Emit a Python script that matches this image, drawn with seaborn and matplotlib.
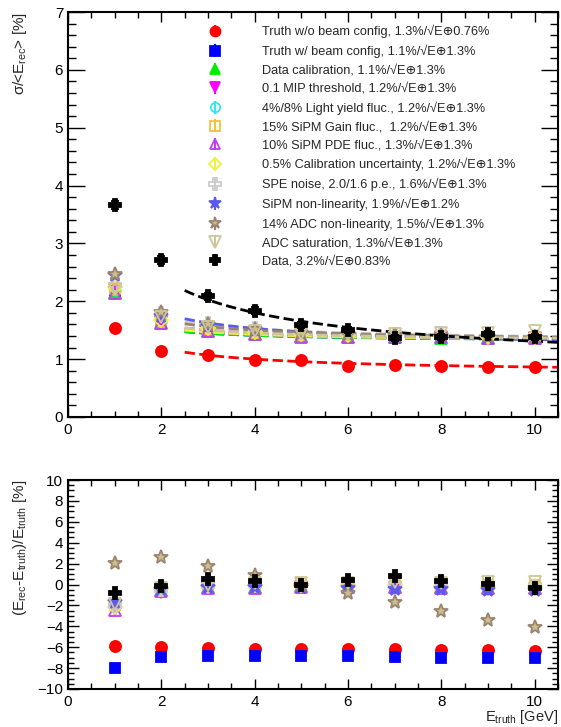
import numpy as np
import pandas as pd
import matplotlib
matplotlib.use("Agg")
import matplotlib.pyplot as plt
import seaborn as sns
from matplotlib.ticker import MultipleLocator

sns.set_theme(style="ticks")
plt.rcParams['font.family'] = ['Liberation Sans', 'DejaVu Sans']
plt.rcParams['mathtext.fontset'] = 'custom'
plt.rcParams['mathtext.rm'] = 'Liberation Sans'
plt.rcParams['mathtext.it'] = 'Liberation Sans:italic'

# Beam energies [GeV]
energy = [1, 2, 3, 4, 5, 6, 7, 8, 9, 10]

# Energy resolution sigma/<E_rec> [%]
res_truth_nobeam = [1.53, 1.14, 1.07, 0.99, 0.98, 0.88, 0.90, 0.89, 0.87, 0.87]
res_truth_beam   = [2.18, 1.63, 1.50, 1.45, 1.41, 1.40, 1.39, 1.38, 1.37, 1.36]
res_data_calib   = [2.15, 1.62, 1.49, 1.44, 1.40, 1.39, 1.38, 1.37, 1.37, 1.36]
res_mip          = [2.20, 1.64, 1.50, 1.45, 1.41, 1.40, 1.39, 1.38, 1.37, 1.37]
res_ly           = [2.20, 1.65, 1.52, 1.46, 1.42, 1.41, 1.40, 1.39, 1.38, 1.38]
res_gain         = [2.22, 1.66, 1.52, 1.46, 1.42, 1.41, 1.40, 1.40, 1.39, 1.38]
res_pde          = [2.15, 1.63, 1.49, 1.44, 1.39, 1.39, 1.39, 1.38, 1.37, 1.36]
res_calunc       = [2.25, 1.68, 1.53, 1.47, 1.43, 1.42, 1.41, 1.40, 1.39, 1.39]
res_spe          = [2.28, 1.80, 1.62, 1.53, 1.47, 1.45, 1.43, 1.42, 1.41, 1.40]
res_sipm_nl      = [2.45, 1.75, 1.58, 1.50, 1.45, 1.43, 1.42, 1.40, 1.39, 1.38]
res_adc_nl       = [2.48, 1.82, 1.60, 1.52, 1.45, 1.43, 1.42, 1.41, 1.40, 1.39]
res_adc_sat      = [2.22, 1.72, 1.55, 1.49, 1.44, 1.43, 1.44, 1.45, 1.46, 1.49]
res_data         = [3.67, 2.72, 2.09, 1.84, 1.59, 1.50, 1.36, 1.38, 1.43, 1.38]
res_data_err     = [0.07, 0.07, 0.06, 0.06, 0.06, 0.05, 0.05, 0.05, 0.05, 0.05]

# Linearity (E_rec - E_truth)/E_truth [%]
bias_truth_nobeam = [-5.90, -6.00, -6.10, -6.15, -6.20, -6.20, -6.20, -6.30, -6.30, -6.35]
bias_truth_beam   = [-7.95, -6.95, -6.80, -6.80, -6.85, -6.85, -6.95, -7.00, -7.00, -7.05]
bias_data_calib   = [-1.50, -0.50, -0.20, -0.20, -0.15, -0.20, -0.20, -0.25, -0.30, -0.30]
bias_mip          = [-2.30, -0.70, -0.30, -0.30, -0.20, -0.30, -0.30, -0.35, -0.40, -0.40]
bias_ly           = [-1.80, -0.40, -0.10, -0.10, 0.00, -0.05, -0.10, -0.15, -0.20, -0.20]
bias_gain         = [-2.00, -0.30, 0.00, 0.10, 0.10, 0.10, 0.10, 0.00, -0.05, 0.00]
bias_pde          = [-2.40, -0.60, -0.30, -0.30, -0.20, -0.20, -0.20, -0.30, -0.30, -0.30]
bias_calunc       = [-2.20, -0.40, -0.10, 0.00, 0.00, 0.00, 0.00, -0.10, -0.10, -0.10]
bias_spe          = [-2.10, -0.50, -0.10, 0.00, 0.00, 0.00, 0.00, -0.10, -0.10, -0.10]
bias_sipm_nl      = [-1.70, -0.40, -0.20, -0.20, -0.20, -0.30, -0.40, -0.40, -0.50, -0.50]
bias_adc_nl       = [2.10, 2.60, 1.80, 0.95, 0.00, -0.85, -1.70, -2.50, -3.35, -4.10]
bias_adc_sat      = [-1.90, -0.30, 0.00, 0.10, 0.10, 0.10, 0.20, 0.10, 0.20, 0.20]
bias_data         = [-0.85, -0.15, 0.55, 0.35, 0.00, 0.40, 0.80, 0.35, 0.05, -0.35]
bias_data_err     = [0.10, 0.10, 0.10, 0.10, 0.10, 0.10, 0.10, 0.10, 0.10, 0.10]

# Fit parameters a [%] (stochastic) and b [%] (constant): a/sqrt(E) (+) b
fit_stoch = [1.3, 1.1, 1.1, 1.2, 1.2, 1.2, 1.3, 1.2, 1.6, 1.9, 1.5, 1.3, 3.2]
fit_const = [0.76, 1.3, 1.3, 1.3, 1.3, 1.3, 1.3, 1.3, 1.3, 1.2, 1.3, 1.3, 0.83]

names = ["Truth w/o beam config", "Truth w/ beam config", "Data calibration",
         "0.1 MIP threshold", "4%/8% Light yield fluc.", "15% SiPM Gain fluc., ",
         "10% SiPM PDE fluc.", "0.5% Calibration uncertainty",
         "SPE noise, 2.0/1.6 p.e.", "SiPM non-linearity", "14% ADC non-linearity",
         "ADC saturation", "Data"]

res_sets = [res_truth_nobeam, res_truth_beam, res_data_calib, res_mip, res_ly, res_gain,
            res_pde, res_calunc, res_spe, res_sipm_nl, res_adc_nl, res_adc_sat, res_data]
bias_sets = [bias_truth_nobeam, bias_truth_beam, bias_data_calib, bias_mip, bias_ly, bias_gain,
             bias_pde, bias_calunc, bias_spe, bias_sipm_nl, bias_adc_nl, bias_adc_sat, bias_data]

colors = ["#ff0000", "#0000ff", "#00ee00", "#ff00ff", "#33e6f0", "#f5c040",
          "#c040f0", "#f0f040", "#cccccc", "#5a5af0", "#9a8470", "#ccc69a", "#000000"]
faces = ["#ff0000", "#0000ff", "#00ee00", "#ff00ff", "none", "none",
         "none", "none", "none", "#5a5af0", "#cbbd8e", "none", "#000000"]
markers = ["o", "s", "^", "v", "o", "s", "^", "D", "P", "*", "*", "v", "P"]
sizes = [8, 7.5, 8, 8, 7.5, 7.5, 8, 7, 9, 10, 10, 9, 8.5]

fig = plt.figure(figsize=(5.61, 7.27), dpi=100)
ax1 = fig.add_axes([68 / 561, 1 - 417 / 727, 490 / 561, 405 / 727])
ax2 = fig.add_axes([68 / 561, 1 - 689 / 727, 490 / 561, 209 / 727])

# Fit curves a/sqrt(E) (+) b
e_fit = np.linspace(2.5, 10.5, 200)
for i in range(len(names)):
    curve = pd.DataFrame({"E": e_fit,
                          "res": np.hypot(fit_stoch[i] / np.sqrt(e_fit), fit_const[i])})
    sns.lineplot(data=curve, x="E", y="res", ax=ax1, color=colors[i], linestyle="--",
                 linewidth=2.0, dashes=(2.5, 1.5), legend=False, zorder=2)

handles = []
for i in range(len(names)):
    c = colors[i]
    is_data = names[i] == "Data"
    yerr_top = res_data_err if is_data else None
    yerr_bot = bias_data_err if is_data else None
    ax1.errorbar(energy, res_sets[i], yerr=yerr_top, fmt=markers[i], color=c, mfc=faces[i],
                 mec=c, ms=sizes[i], mew=1.3, elinewidth=1.5, capsize=3 if is_data else 0,
                 zorder=3 + i)
    ax2.errorbar(energy, bias_sets[i], yerr=yerr_bot, fmt=markers[i], color=c, mfc=faces[i],
                 mec=c, ms=sizes[i], mew=1.3, elinewidth=1.5, capsize=3 if is_data else 0,
                 zorder=3 + i)
    if names[i].endswith(" "):
        label = f"{names[i]} {fit_stoch[i]:g}%/\u221aE\u2295{fit_const[i]:g}%"
    else:
        label = f"{names[i]}, {fit_stoch[i]:g}%/\u221aE\u2295{fit_const[i]:g}%"
    h = ax1.errorbar([], [], yerr=[], fmt=markers[i], color=c, mfc=faces[i], mec=c,
                     ms=sizes[i] * 0.9, mew=1.3, elinewidth=1.5, capsize=3, label=label)
    handles.append(h)

ax1.legend(handles=handles, loc="upper left", bbox_to_anchor=(205 / 561, 1 - 25 / 727),
           bbox_transform=fig.transFigure, frameon=False, fontsize=9.2, borderpad=0,
           labelspacing=0.5, handlelength=1.6, handletextpad=2.85, borderaxespad=0)

for ax in (ax1, ax2):
    ax.set_xlim(0, 10.5)
    ax.xaxis.set_major_locator(MultipleLocator(2))
    ax.xaxis.set_minor_locator(MultipleLocator(0.5))
    ax.tick_params(which="both", direction="in", top=True, right=True, labelsize=11,
                   color="black", labelcolor="black", width=1)
    ax.tick_params(axis="x", which="major", length=7, pad=4)
    ax.tick_params(axis="x", which="minor", length=4)
    for s in ax.spines.values():
        s.set_color("black")
        s.set_linewidth(1.5)

ax1.set_xlabel("")
ax1.set_ylim(0, 7)
ax1.yaxis.set_major_locator(MultipleLocator(1))
ax1.yaxis.set_minor_locator(MultipleLocator(0.2))
ax1.tick_params(axis="y", which="major", length=12)
ax1.tick_params(axis="y", which="minor", length=6)
ax1.set_ylabel("σ/<E$_{\\mathrm{rec}}$> [%]", fontsize=11, loc="top")
ax1.yaxis.set_label_coords(-0.08, 1.0)

ax2.set_ylim(-10, 10)
ax2.yaxis.set_major_locator(MultipleLocator(2))
ax2.yaxis.set_minor_locator(MultipleLocator(0.5))
ax2.tick_params(axis="y", which="major", length=8)
ax2.tick_params(axis="y", which="minor", length=4)
ax2.set_ylabel("(E$_{\\mathrm{rec}}$-E$_{\\mathrm{truth}}$)/E$_{\\mathrm{truth}}$ [%]",
               fontsize=11, loc="top")
ax2.yaxis.set_label_coords(-0.08, 1.0)
ax2.set_xlabel("E$_{\\mathrm{truth}}$ [GeV]", fontsize=10.5)
ax2.xaxis.set_label_coords(1.0, -0.09)
ax2.xaxis.label.set_horizontalalignment("right")
ax2.xaxis.label.set_verticalalignment("top")

fig.savefig("out.png", dpi=100)
